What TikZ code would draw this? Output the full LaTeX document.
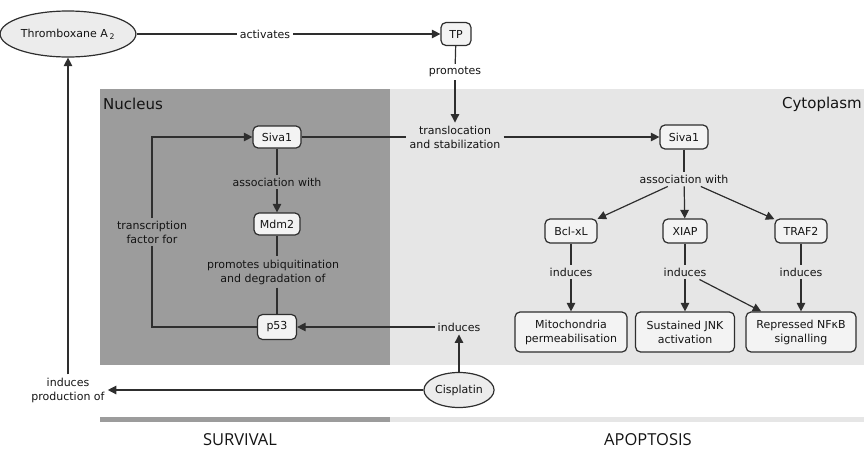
\documentclass[tikz,border=0pt]{standalone}
\usepackage{fontspec}
\setmainfont{DejaVu Sans}
\newfontfamily\capfont{Open Sans}
\usetikzlibrary{shapes.geometric,arrows.meta}
\definecolor{darkpanel}{HTML}{9C9C9C}
\definecolor{lightpanel}{HTML}{E6E6E6}
\definecolor{boxfill}{HTML}{F3F3F3}
\definecolor{ellfill}{HTML}{ECECEC}
\definecolor{linecol}{HTML}{2E2E2E}
\definecolor{txtcol}{HTML}{141414}
\tikzset{
  boxnode/.style={draw=linecol, line width=1.2pt, rounded corners=5pt, fill=boxfill,
    font=\fontsize{11}{14}\selectfont, text=txtcol, align=center, inner sep=2pt},
  ellnode/.style={draw=linecol, line width=1.2pt, ellipse, fill=ellfill,
    font=\fontsize{11}{14}\selectfont, text=txtcol, inner sep=1pt},
  lbl/.style={font=\fontsize{11}{14}\selectfont, text=txtcol, align=center, inner sep=3pt},
  ln/.style={draw=linecol, line width=1.2pt},
  arr/.style={draw=linecol, line width=1.2pt, -{Triangle[length=8.5pt,width=8.5pt]}},
}
\begin{document}
\begin{tikzpicture}[x=1pt,y=-1pt]
\useasboundingbox (0,0) rectangle (864,450);
% panels
\fill[darkpanel] (100,89) rectangle (390,365);
\fill[lightpanel] (390,89) rectangle (864,365);
\fill[darkpanel] (100,417) rectangle (390,422);
\fill[lightpanel] (390,417) rectangle (864,422);
\node[anchor=west, font=\fontsize{15}{18}\selectfont, text=txtcol, inner sep=0pt] (nuc) at (103,104) {Nucleus};
\node[anchor=east, font=\fontsize{15}{18}\selectfont, text=txtcol, inner sep=0pt] (cyt) at (862,104) {Cytoplasm};
\node[font=\capfont\fontsize{16.5}{18}\selectfont, text=txtcol, inner sep=0pt] (surv) at (240,440) {SURVIVAL};
\node[font=\capfont\fontsize{16.5}{18}\selectfont, text=txtcol, inner sep=0pt] (apop) at (648,440) {APOPTOSIS};
% nodes
\node[ellnode, minimum width=120pt, minimum height=46pt] (thx) at (68,34) {Thromboxane A\,\textsubscript{2}};
\node[boxnode, minimum width=30pt, minimum height=23pt] (tp) at (456,34) {TP};
\node[lbl] (act) at (265,34) {activates};
\node[lbl] (prom) at (455,72) {promotes};
\node[lbl] (transl) at (455,137) {translocation\\and stabilization};
\node[boxnode, minimum width=48pt, minimum height=22pt] (sivan) at (277,137) {Siva1};
\node[lbl] (assocn) at (277,182) {association with};
\node[boxnode, minimum width=46pt, minimum height=22pt] (mdm) at (277,224) {Mdm2};
\node[lbl] (ubiq) at (273,272) {promotes ubiquitination\\and degradation of};
\node[boxnode, minimum width=39pt, minimum height=25pt] (p53) at (277,327) {p53};
\node[lbl] (tf) at (152,232) {transcription\\factor for};
\node[boxnode, minimum width=48pt, minimum height=24pt] (sivac) at (684,137) {Siva1};
\node[lbl] (assocc) at (684,179) {association with};
\node[boxnode, minimum width=52pt, minimum height=24pt] (bcl) at (571,231) {Bcl-xL};
\node[boxnode, minimum width=44pt, minimum height=24pt] (xiap) at (685,231) {XIAP};
\node[boxnode, minimum width=52pt, minimum height=24pt] (traf) at (801,231) {TRAF2};
\node[lbl] (ind1) at (571,272) {induces};
\node[lbl] (ind2) at (685,272) {induces};
\node[lbl] (ind3) at (801,272) {induces};
\node[boxnode, minimum width=112pt, minimum height=40pt] (mito) at (571,332) {Mitochondria\\permeabilisation};
\node[boxnode, minimum width=99pt, minimum height=40pt] (jnk) at (685,332) {Sustained JNK\\activation};
\node[boxnode, minimum width=110pt, minimum height=40pt] (nfkb) at (801,332) {Repressed NFκB\\signalling};
\node[lbl] (indc) at (459,327) {induces};
\node[ellnode, minimum width=69pt, minimum height=35pt] (cis) at (459,390) {Cisplatin};
\node[lbl] (ipo) at (68,390) {induces\\production of};
% connectors
\draw[ln] (thx) -- (act);
\draw[arr] (act) -- (tp);
\draw[ln] (tp) -- (prom);
\draw[arr] (prom) -- (transl);
\draw[ln] (sivan) -- (transl);
\draw[arr] (transl) -- (sivac);
\draw[ln] (sivan) -- (assocn);
\draw[arr] (assocn) -- (mdm);
\draw[ln] (mdm.south) -- (mdm.south |- ubiq.north);
\draw[ln] (p53.north |- ubiq.south) -- (p53.north);
\draw[ln] (p53.west) -| (tf.south);
\draw[arr] (tf.north) |- (sivan.west);
\draw[arr] (indc) -- (p53);
\draw[arr] (cis) -- (indc);
\draw[arr] (cis) -- (ipo);
\draw[arr] (ipo) -- (thx);
\draw[ln] (sivac) -- (assocc);
\draw[arr] (assocc) -- (bcl);
\draw[arr] (assocc) -- (xiap);
\draw[arr] (assocc) -- (traf);
\draw[ln] (bcl) -- (ind1);
\draw[arr] (ind1) -- (mito);
\draw[ln] (xiap) -- (ind2);
\draw[arr] (ind2) -- (jnk);
\draw[arr] (ind2) -- (nfkb);
\draw[ln] (traf) -- (ind3);
\draw[arr] (ind3) -- (nfkb);
\end{tikzpicture}
\end{document}
